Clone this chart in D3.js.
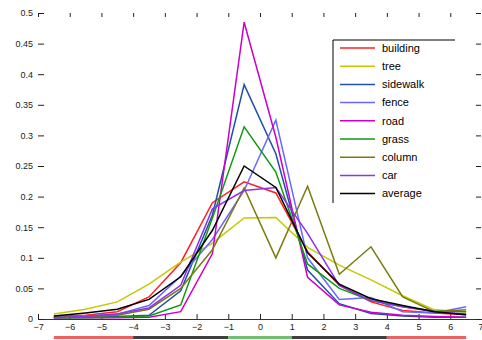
<!DOCTYPE html>
<html>
  <head>
    <meta charset="utf-8">
    <script src="https://d3js.org/d3.v7.min.js"></script>
    <style>
      body { margin: 0; background: #fff; }
      text { font-family: "Liberation Sans", Arial, sans-serif; }
    </style>
  </head>
  <body>
    <svg width="482" height="340"></svg>
    <script>

      // bin centres on the x axis
      const bins = [-6.5, -5.5, -4.5, -3.5, -2.5, -1.5, -0.5, 0.5, 1.5, 2.5, 3.5, 4.5, 5.5, 6.5];

      const building = [0.004, 0.006, 0.012, 0.036, 0.092, 0.19, 0.224, 0.206, 0.11, 0.055, 0.028, 0.014, 0.01, 0.007];
      const tree     = [0.008, 0.016, 0.028, 0.057, 0.093, 0.124, 0.165, 0.166, 0.117, 0.088, 0.064, 0.038, 0.015, 0.012];
      const sidewalk = [0.002, 0.003, 0.004, 0.006, 0.046, 0.17, 0.383, 0.27, 0.08, 0.025, 0.009, 0.005, 0.003, 0.003];
      const fence    = [0.003, 0.005, 0.008, 0.022, 0.07, 0.13, 0.21, 0.325, 0.1, 0.032, 0.035, 0.012, 0.01, 0.02];
      const road     = [0.002, 0.002, 0.002, 0.003, 0.012, 0.107, 0.485, 0.297, 0.068, 0.023, 0.011, 0.006, 0.004, 0.003];
      const grass    = [0.002, 0.002, 0.003, 0.005, 0.023, 0.165, 0.314, 0.24, 0.09, 0.05, 0.03, 0.02, 0.013, 0.012];
      const column   = [0.003, 0.004, 0.006, 0.016, 0.05, 0.113, 0.214, 0.1, 0.217, 0.073, 0.118, 0.036, 0.012, 0.015];
      const car      = [0.002, 0.004, 0.008, 0.018, 0.055, 0.18, 0.21, 0.215, 0.14, 0.055, 0.03, 0.02, 0.012, 0.008];
      const average  = [0.005, 0.01, 0.016, 0.032, 0.069, 0.145, 0.25, 0.215, 0.108, 0.057, 0.033, 0.022, 0.012, 0.007];

      const names = ["building", "tree", "sidewalk", "fence", "road", "grass", "column", "car", "average"];
      const colors = ["#ff2020", "#c8c800", "#2050a8", "#6868ff", "#cc00cc", "#109a10", "#7a7a10", "#9030f0", "#000000"];
      const values = [building, tree, sidewalk, fence, road, grass, column, car, average];

      const xTicks = [-7, -6, -5, -4, -3, -2, -1, 0, 1, 2, 3, 4, 5, 6, 7];
      const yTicks = [0, 0.05, 0.1, 0.15, 0.2, 0.25, 0.3, 0.35, 0.4, 0.45, 0.5];

      // coloured strip under the x axis
      const stripFrom = [-6.5, -4, -1, 1, 4];
      const stripTo = [-4, -1, 1, 4, 6.5];
      const stripColor = ["#f06060", "#404040", "#70c070", "#404040", "#f06060"];

      const svg = d3.select("svg");

      const x = d3.scaleLinear().domain([-7, 7]).range([38, 482]);
      const y = d3.scaleLinear().domain([0, 0.5]).range([319, 13]);

      const fmt = d => d === 0 ? "0" : String(+d.toFixed(2));

      // bottom axis
      const bottom = svg.append("g")
          .attr("transform", "translate(0, 319)")
          .call(d3.axisBottom(x).tickValues(xTicks).tickSizeInner(-5).tickSizeOuter(0).tickPadding(5));
      bottom.select(".domain").attr("stroke", "#333");
      // last label sits on the window edge, keep it inside
      bottom.selectAll(".tick text").filter((d) => d === 7).attr("text-anchor", "end").attr("dx", 1);

      // top ticks
      svg.append("g")
          .attr("transform", "translate(0, 13)")
          .call(d3.axisTop(x).tickValues(xTicks).tickSizeInner(-4).tickSizeOuter(0).tickFormat(""))
          .select(".domain").remove();

      // left axis
      svg.append("g")
          .attr("transform", "translate(38, 0)")
          .call(d3.axisLeft(y).tickValues(yTicks).tickSizeInner(-6).tickSizeOuter(0).tickPadding(5).tickFormat(fmt))
          .select(".domain").remove();

      // right ticks
      svg.append("g")
          .attr("transform", "translate(481, 0)")
          .call(d3.axisRight(y).tickValues(yTicks).tickSizeInner(-5).tickSizeOuter(0).tickFormat(""))
          .select(".domain").remove();

      svg.selectAll(".tick text").style("font-size", "9px").attr("fill", "#222");
      svg.selectAll(".tick line").attr("stroke", "#222");

      // strip
      svg.selectAll(".strip")
        .data(stripFrom)
        .enter()
        .append("rect")
        .attr("x", (d) => x(d))
        .attr("y", 336)
        .attr("width", (d, i) => x(stripTo[i]) - x(d))
        .attr("height", 3)
        .attr("fill", (d, i) => stripColor[i]);

      const line = d3.line()
          .x((d, i) => x(bins[i]))
          .y((d) => y(d));

      svg.selectAll(".series")
        .data(values)
        .enter()
        .append("path")
        .attr("d", (d) => line(d))
        .attr("fill", "none")
        .attr("stroke", (d, i) => colors[i])
        .attr("stroke-width", 1.5);

      // legend: only the top and left edges show in the original
      const legend = svg.append("g");
      legend.append("rect")
          .attr("x", 333).attr("y", 40)
          .attr("width", 122).attr("height", 163)
          .attr("fill", "#fff");
      legend.append("path")
          .attr("d", "M333,203V40H455")
          .attr("fill", "none")
          .attr("stroke", "#000");

      const rows = legend.selectAll(".row")
        .data(names)
        .enter()
        .append("g")
        .attr("transform", (d, i) => `translate(0, ${48 + i * 18.2})`);

      rows.append("line")
          .attr("x1", 340).attr("x2", 375)
          .attr("stroke", (d, i) => colors[i])
          .attr("stroke-width", 1.5);

      rows.append("text")
          .attr("x", 382)
          .attr("dy", "0.35em")
          .style("font-size", "11px")
          .text((d) => d);

    </script>
  </body>
</html>
